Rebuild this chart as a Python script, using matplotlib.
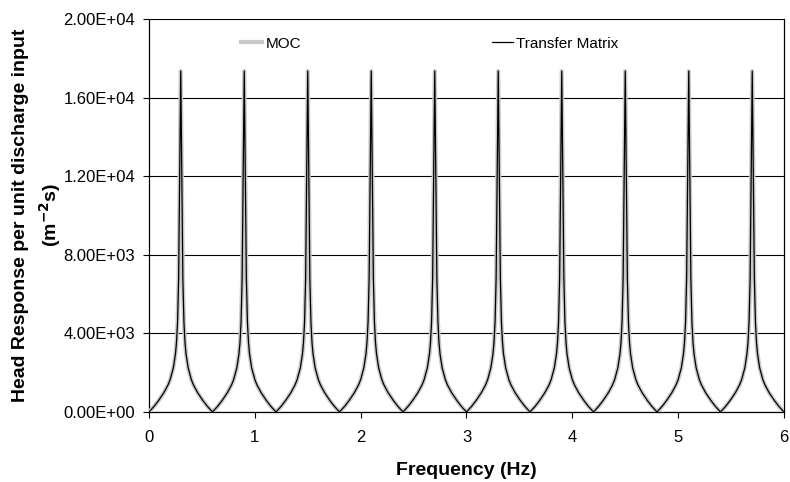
import matplotlib.pyplot as plt
from matplotlib.ticker import FixedLocator

# Frequency (Hz), one line per period of the response
freq = [
    0.0, 0.05, 0.09, 0.14, 0.18, 0.2, 0.23, 0.25, 0.26, 0.27, 0.28, 0.29, 0.3, 0.31, 0.32, 0.33, 0.34, 0.35, 0.37, 0.4, 0.42, 0.46, 0.51, 0.55,
    0.6, 0.65, 0.69, 0.74, 0.78, 0.8, 0.83, 0.85, 0.86, 0.87, 0.88, 0.89, 0.9, 0.91, 0.92, 0.93, 0.94, 0.95, 0.97, 1.0, 1.02, 1.06, 1.11, 1.15,
    1.2, 1.25, 1.29, 1.34, 1.38, 1.4, 1.43, 1.45, 1.46, 1.47, 1.48, 1.49, 1.5, 1.51, 1.52, 1.53, 1.54, 1.55, 1.57, 1.6, 1.62, 1.66, 1.71, 1.75,
    1.8, 1.85, 1.89, 1.94, 1.98, 2.0, 2.03, 2.05, 2.06, 2.07, 2.08, 2.09, 2.1, 2.11, 2.12, 2.13, 2.14, 2.15, 2.17, 2.2, 2.22, 2.26, 2.31, 2.35,
    2.4, 2.45, 2.49, 2.54, 2.58, 2.6, 2.63, 2.65, 2.66, 2.67, 2.68, 2.69, 2.7, 2.71, 2.72, 2.73, 2.74, 2.75, 2.77, 2.8, 2.82, 2.86, 2.91, 2.95,
    3.0, 3.05, 3.09, 3.14, 3.18, 3.2, 3.23, 3.25, 3.26, 3.27, 3.28, 3.29, 3.3, 3.31, 3.32, 3.33, 3.34, 3.35, 3.37, 3.4, 3.42, 3.46, 3.51, 3.55,
    3.6, 3.65, 3.69, 3.74, 3.78, 3.8, 3.83, 3.85, 3.86, 3.87, 3.88, 3.89, 3.9, 3.91, 3.92, 3.93, 3.94, 3.95, 3.97, 4.0, 4.02, 4.06, 4.11, 4.15,
    4.2, 4.25, 4.29, 4.34, 4.38, 4.4, 4.43, 4.45, 4.46, 4.47, 4.48, 4.49, 4.5, 4.51, 4.52, 4.53, 4.54, 4.55, 4.57, 4.6, 4.62, 4.66, 4.71, 4.75,
    4.8, 4.85, 4.89, 4.94, 4.98, 5.0, 5.03, 5.05, 5.06, 5.07, 5.08, 5.09, 5.1, 5.11, 5.12, 5.13, 5.14, 5.15, 5.17, 5.2, 5.22, 5.26, 5.31, 5.35,
    5.4, 5.45, 5.49, 5.54, 5.58, 5.6, 5.63, 5.65, 5.66, 5.67, 5.68, 5.69, 5.7, 5.71, 5.72, 5.73, 5.74, 5.75, 5.77, 5.8, 5.82, 5.86, 5.91, 5.95,
    6.0,
]

# Head response per unit discharge input (m^-2 s), transfer matrix result
tm_head = [
    0, 300, 580, 980, 1380, 1650, 2250, 2950, 3550, 4600, 6800, 12000, 17350, 12000, 6800, 4600, 3550, 2950, 2250, 1650, 1380, 980, 580, 300,
    0, 300, 580, 980, 1380, 1650, 2250, 2950, 3550, 4600, 6800, 12000, 17350, 12000, 6800, 4600, 3550, 2950, 2250, 1650, 1380, 980, 580, 300,
    0, 300, 580, 980, 1380, 1650, 2250, 2950, 3550, 4600, 6800, 12000, 17350, 12000, 6800, 4600, 3550, 2950, 2250, 1650, 1380, 980, 580, 300,
    0, 300, 580, 980, 1380, 1650, 2250, 2950, 3550, 4600, 6800, 12000, 17350, 12000, 6800, 4600, 3550, 2950, 2250, 1650, 1380, 980, 580, 300,
    0, 300, 580, 980, 1380, 1650, 2250, 2950, 3550, 4600, 6800, 12000, 17350, 12000, 6800, 4600, 3550, 2950, 2250, 1650, 1380, 980, 580, 300,
    0, 300, 580, 980, 1380, 1650, 2250, 2950, 3550, 4600, 6800, 12000, 17350, 12000, 6800, 4600, 3550, 2950, 2250, 1650, 1380, 980, 580, 300,
    0, 300, 580, 980, 1380, 1650, 2250, 2950, 3550, 4600, 6800, 12000, 17350, 12000, 6800, 4600, 3550, 2950, 2250, 1650, 1380, 980, 580, 300,
    0, 300, 580, 980, 1380, 1650, 2250, 2950, 3550, 4600, 6800, 12000, 17350, 12000, 6800, 4600, 3550, 2950, 2250, 1650, 1380, 980, 580, 300,
    0, 300, 580, 980, 1380, 1650, 2250, 2950, 3550, 4600, 6800, 12000, 17350, 12000, 6800, 4600, 3550, 2950, 2250, 1650, 1380, 980, 580, 300,
    0, 300, 580, 980, 1380, 1650, 2250, 2950, 3550, 4600, 6800, 12000, 17350, 12000, 6800, 4600, 3550, 2950, 2250, 1650, 1380, 980, 580, 300,
    0,
]

# MOC result sits on top of the transfer matrix curve
moc_head = list(tm_head)

x_ticks = [0, 1, 2, 3, 4, 5, 6]
y_ticks = [0, 4000, 8000, 12000, 16000, 20000]
y_tick_labels = ['0.00E+00', '4.00E+03', '8.00E+03', '1.20E+04', '1.60E+04', '2.00E+04']

plt.rcParams['font.family'] = ['Liberation Sans', 'DejaVu Sans']

fig = plt.figure(figsize=(7.9, 4.82), dpi=100)
ax = fig.add_axes([0.1886, 0.1452, 0.8038, 0.8154])

ax.plot(freq, moc_head, color='#c8c8c8', lw=3.0, label='MOC', zorder=3)
ax.plot(freq, tm_head, color='black', lw=0.9, label='Transfer Matrix', zorder=4)

ax.set_xlim(0, 6)
ax.set_ylim(0, 20000)
ax.xaxis.set_major_locator(FixedLocator(x_ticks))
ax.set_yticks(y_ticks)
ax.set_yticklabels(y_tick_labels)
ax.tick_params(axis='both', labelsize=12, direction='out', length=4, width=0.8, colors='black')
ax.tick_params(axis='x', pad=9)
ax.tick_params(axis='y', pad=6)

ax.grid(axis='y', color='black', lw=0.8)
ax.set_axisbelow(True)
ax.spines['top'].set_visible(False)
for side in ['left', 'bottom', 'right']:
    ax.spines[side].set_linewidth(0.9)

ax.set_xlabel('Frequency (Hz)', fontsize=14, fontweight='bold', labelpad=12)
ax.set_ylabel('Head Response per unit discharge input\n(m$^{\\mathbf{-2}}$s)', fontsize=14,
              fontweight='bold', linespacing=1.4)
ax.yaxis.set_label_coords(-0.135, 0.5)

ax.legend(loc='upper left', bbox_to_anchor=(0.123, 0.99), ncol=2, frameon=False, fontsize=11,
          handlelength=1.4, handletextpad=0.2, columnspacing=12.5)

plt.savefig('out.png', dpi=100)
